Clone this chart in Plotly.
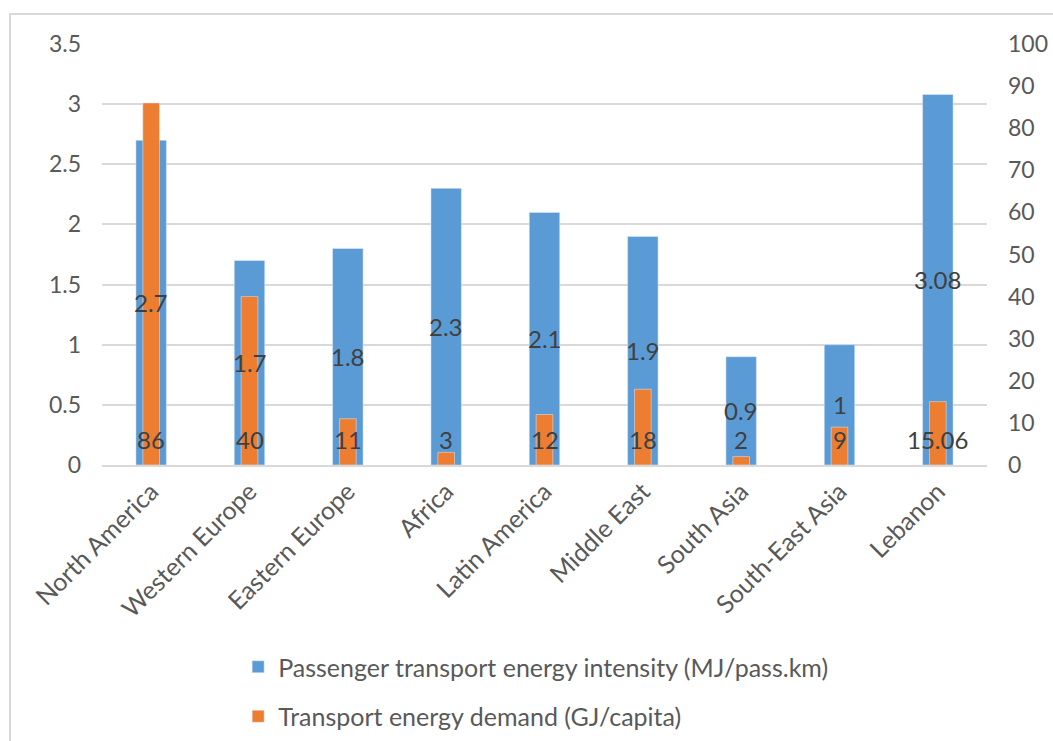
import plotly.graph_objects as go

regions = ["North America", "Western Europe", "Eastern Europe", "Africa", "Latin America",
           "Middle East", "South Asia", "South-East Asia", "Lebanon"]
intensity = [2.7, 1.7, 1.8, 2.3, 2.1, 1.9, 0.9, 1.0, 3.08]
intensity_labels = ["2.7", "1.7", "1.8", "2.3", "2.1", "1.9", "0.9", "1", "3.08"]
demand = [86, 40, 11, 3, 12, 18, 2, 9, 15.06]
demand_labels = ["86", "40", "11", "3", "12", "18", "2", "9", "15.06"]

left_ticks = [0, 0.5, 1, 1.5, 2, 2.5, 3, 3.5]
left_tick_text = ["0", "0.5", "1", "1.5", "2", "2.5", "3", "3.5"]
right_ticks = [0, 10, 20, 30, 40, 50, 60, 70, 80, 90, 100]

FONT = "Lato"
TEXT_GREY = "#595959"
LABEL_GREY = "#404040"
BLUE = "#5B9BD5"
ORANGE = "#ED7D31"

fig = go.Figure()
fig.add_trace(go.Bar(
    x=regions, y=intensity, name="Passenger transport energy intensity (MJ/pass.km)",
    marker=dict(color=BLUE), width=0.31, yaxis="y", legendgroup="a",
))
fig.add_trace(go.Bar(
    x=regions, y=demand, name="Transport energy demand (GJ/capita)",
    marker=dict(color=ORANGE), width=0.17, yaxis="y2", legendgroup="b",
))

annotations = []
for r, v, t in zip(regions, intensity, intensity_labels):
    annotations.append(dict(x=r, y=v / 2, xref="x", yref="y", text=t, showarrow=False,
                            yanchor="middle", font=dict(family=FONT, size=24, color=LABEL_GREY)))
for r, v, t in zip(regions, demand, demand_labels):
    annotations.append(dict(x=r, y=0, xref="x", yref="y2", text=t, showarrow=False,
                            yanchor="middle", yshift=26,
                            font=dict(family=FONT, size=24, color=LABEL_GREY)))

fig.update_layout(
    width=1053, height=741,
    margin=dict(l=102, r=66, t=44, b=276, autoexpand=False),
    paper_bgcolor="white", plot_bgcolor="white",
    barmode="overlay",
    font=dict(family=FONT, size=22, color=TEXT_GREY),
    xaxis=dict(
        tickangle=-45, tickfont=dict(size=25, color=TEXT_GREY), automargin=False,
        showline=True, linecolor="#D9D9D9", linewidth=2, ticks="", ticklabelstandoff=0,
    ),
    yaxis=dict(
        range=[0, 3.5], tickvals=left_ticks, ticktext=left_tick_text, automargin=False,
        showgrid=True, gridcolor="#D9D9D9", gridwidth=1.5, zeroline=False,
        tickfont=dict(size=23, color=TEXT_GREY), ticklabelstandoff=20,
    ),
    yaxis2=dict(
        range=[0, 100], tickvals=right_ticks, overlaying="y", side="right", automargin=False,
        showgrid=False, zeroline=False,
        tickfont=dict(size=23, color=TEXT_GREY), ticklabelstandoff=20,
    ),
    legend=dict(
        orientation="v", x=0.49, xanchor="center", y=-(644 - 465) / 421, yanchor="top",
        font=dict(family=FONT, size=25, color=TEXT_GREY), tracegroupgap=14,
    ),
    annotations=annotations,
    shapes=[dict(type="rect", xref="paper", yref="paper",
                 x0=(10 - 102) / 885, x1=(1070 - 102) / 885,
                 y0=(465 - 760) / 421, y1=1 + (44 - 14) / 421,
                 line=dict(color="#D9D9D9", width=2), fillcolor="rgba(0,0,0,0)", layer="below")],
)

fig.write_html("out.html")
